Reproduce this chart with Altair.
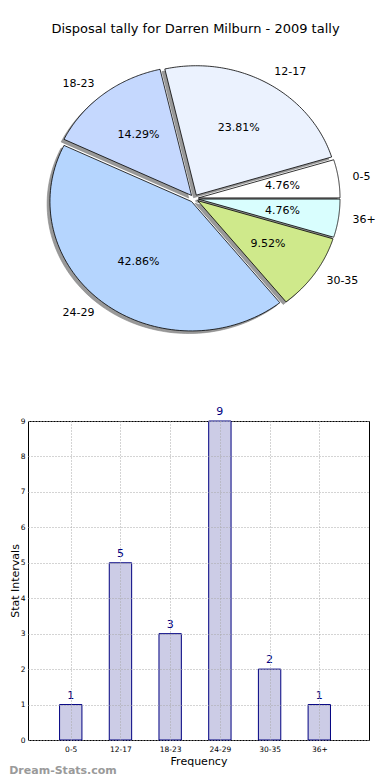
import altair as alt
import pandas as pd

# ---------------- data ----------------
labels = ["0-5", "12-17", "18-23", "24-29", "30-35", "36+"]
counts = [1, 5, 3, 9, 2, 1]
colors = ["#ffffff", "#ebf2fe", "#c5d8fe", "#b5d5fe", "#cfe98b", "#d9fefe"]
tick_values_y = list(range(0, 10))

title_text = "Disposal tally for Darren Milburn - 2009 tally"
x_title = "Frequency"
y_title = "Stat Intervals"
watermark = "Dream-Stats.com"

df = pd.DataFrame({"label": labels, "count": counts, "i": list(range(len(labels)))})

# ---------------- geometry / style ----------------
FONT = "DejaVu Sans"
N = 90            # points along each arc
EXPLODE = 0.03
SHADOW = 0.02
L = 29.0          # expected page x of plot-area left edge
PX_X, PX_Y = 141.6, 129.4
CX, CY = 195.2, 199.5
PIE_TOP, PIE_BOT = 45.0, 350.0
RIGHT = 370.0

pie_w = RIGHT - L
xs = alt.Scale(domain=[-(CX - L) / PX_X, (RIGHT - CX) / PX_X], nice=False, zero=False)
ys = alt.Scale(domain=[-(PIE_BOT - CY) / PX_Y, (CY - PIE_TOP) / PX_Y], nice=False, zero=False)

base = (
    alt.Chart(df)
    .transform_joinaggregate(total="sum(count)")
    .transform_window(cum="sum(count)", sort=[alt.SortField("i")], frame=[None, 0])
    .transform_calculate(a0="2*PI*(datum.cum - datum.count)/datum.total")
    .transform_calculate(a1="2*PI*datum.cum/datum.total")
    .transform_calculate(am="(datum.a0 + datum.a1)/2")
    .transform_calculate(ox=f"{EXPLODE}*cos(datum.am)")
    .transform_calculate(oy=f"{EXPLODE}*sin(datum.am)")
    .transform_calculate(pct="format(100*datum.count/datum.total, '.2f') + '%'")
)

poly = (
    base.transform_calculate(k=f"sequence(0, {N + 2})")
    .transform_flatten(["k"])
    .transform_calculate(
        ang=f"datum.a0 + (datum.a1 - datum.a0) * clamp(datum.k - 1, 0, {N - 1}) / {N - 1}"
    )
    .transform_calculate(r=f"(datum.k == 0 || datum.k == {N + 1}) ? 0 : 1")
    .transform_calculate(px="datum.ox + datum.r*cos(datum.ang)")
    .transform_calculate(py="datum.oy + datum.r*sin(datum.ang)")
    .transform_calculate(sx=f"datum.px - {SHADOW}")
    .transform_calculate(sy=f"datum.py - {SHADOW}")
)

shadow = poly.mark_line(stroke="#858585", strokeWidth=0.6, fill="#999999").encode(
    x=alt.X("sx:Q", scale=xs, axis=None),
    y=alt.Y("sy:Q", scale=ys, axis=None),
    detail="label:N",
    order="k:Q",
)

slices = poly.mark_line(stroke="black", strokeWidth=0.8, strokeJoin="miter").encode(
    x=alt.X("px:Q", scale=xs, axis=None),
    y=alt.Y("py:Q", scale=ys, axis=None),
    fill=alt.Fill("label:N", scale=alt.Scale(domain=labels, range=colors), legend=None),
    detail="label:N",
    order="k:Q",
)

lab = base.transform_calculate(lx="datum.ox + 1.1*cos(datum.am)").transform_calculate(
    ly="datum.oy + 1.1*sin(datum.am)"
)
lab_right = lab.transform_filter("datum.lx > 0").mark_text(
    align="left", baseline="middle", font=FONT, fontSize=11, color="black"
).encode(x=alt.X("lx:Q", scale=xs, axis=None), y=alt.Y("ly:Q", scale=ys, axis=None), text="label:N")
lab_left = lab.transform_filter("datum.lx <= 0").mark_text(
    align="right", baseline="middle", font=FONT, fontSize=11, color="black"
).encode(x=alt.X("lx:Q", scale=xs, axis=None), y=alt.Y("ly:Q", scale=ys, axis=None), text="label:N")

pct = (
    base.transform_calculate(tx="datum.ox + 0.6*cos(datum.am)")
    .transform_calculate(ty="datum.oy + 0.6*sin(datum.am)")
    .mark_text(align="center", baseline="middle", font=FONT, fontSize=11, color="black")
    .encode(x=alt.X("tx:Q", scale=xs, axis=None), y=alt.Y("ty:Q", scale=ys, axis=None), text="pct:N")
)

pie = alt.layer(shadow, slices, lab_right, lab_left, pct).properties(
    width=pie_w,
    height=PIE_BOT - PIE_TOP,
    title=alt.TitleParams(
        title_text, fontSize=13, font=FONT, fontWeight="normal", anchor="middle",
        offset=8, color="black", dx=-3,
    ),
)

# ---------------- bar chart ----------------
label_expr = "[" + ",".join(f"'{s}'" for s in labels) + "][datum.value]"
bx = alt.Scale(domain=[-0.86, 6.0], nice=False, zero=False)
by = alt.Scale(domain=[0, 9], nice=False, zero=False)

axis_common = dict(
    grid=True, gridDash=[1, 2], gridColor="#a8a8a8", gridWidth=1, ticks=False,
    domain=False, labelFont=FONT, labelFontSize=7.5, labelColor="black",
    titleFont=FONT, titleFontSize=11, titleFontWeight="normal", titleColor="black",
    zindex=1,
)
x_axis = alt.Axis(values=list(range(len(labels))), labelExpr=label_expr, title=x_title,
                  labelPadding=5, titlePadding=3, **axis_common)
y_axis = alt.Axis(values=tick_values_y, title=y_title, labelPadding=3, titlePadding=0,
                  labelOverlap=False, tickCount=10, **axis_common)

bar_base = alt.Chart(df).transform_calculate(xl="datum.i - 0.225").transform_calculate(
    xr="datum.i + 0.225"
).transform_calculate(zero="0").transform_calculate(xc="datum.i")

bars = bar_base.mark_rect(fill="#ccccE6", stroke="#000080", strokeWidth=1).encode(
    x=alt.X("xl:Q", scale=bx, axis=x_axis),
    x2="xr:Q",
    y=alt.Y("count:Q", scale=by, axis=y_axis),
    y2="zero:Q",
)

values_txt = bar_base.mark_text(
    align="center", baseline="alphabetic", dy=-6, font=FONT, fontSize=11, color="#000080"
).encode(
    x=alt.X("xc:Q", scale=bx, axis=x_axis),
    y=alt.Y("count:Q", scale=by, axis=y_axis),
    text="count:Q",
)

barchart = alt.layer(bars, values_txt).properties(
    width=RIGHT - L,
    height=319,
    view=alt.ViewBackground(stroke="black", strokeWidth=1),
    title=alt.TitleParams(
        watermark, orient="bottom", anchor="start", frame="bounds", fontSize=11,
        font=FONT, fontWeight="bold", color="#9a9a9a", offset=-2,
    ),
)

chart = (
    alt.vconcat(pie, barchart, spacing=56)
    .properties(padding={"left": 0, "top": 15, "right": 0, "bottom": 0})
    .configure_view(stroke=None)
)

chart.save("out.html", embed_options={"renderer": "svg", "actions": False})
